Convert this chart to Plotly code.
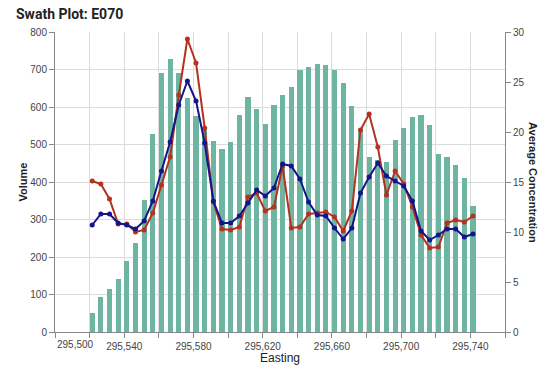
import plotly.graph_objects as go

eastings = [295520 + 5 * i for i in range(45)]
volume = [51, 94, 114, 141, 190, 238, 352, 528, 692, 728,
          692, 623, 576, 540, 510, 487, 507, 579, 628, 596,
          555, 605, 632, 654, 699, 708, 716, 712, 699, 663,
          604, 535, 468, 460, 454, 512, 545, 574, 580, 551,
          476, 466, 445, 412, 337]
conc_red = [15.1, 14.8, 13.3, 10.8, 10.8, 10.0, 10.2, 11.9, 14.7, 17.5,
            23.7, 29.3, 26.9, 20.4, 13.0, 10.3, 10.2, 10.5, 13.5, 13.9,
            12.1, 12.5, 16.6, 10.4, 10.5, 11.8, 11.9, 12.0, 11.5, 10.1,
            12.1, 20.2, 21.8, 18.5, 13.7, 16.1, 14.8, 12.5, 9.7, 8.4,
            8.5, 10.9, 11.2, 11.0, 11.6]
conc_blue = [10.7, 11.8, 11.8, 10.9, 10.7, 10.3, 11.1, 13.1, 16.1, 19.0,
             22.7, 25.1, 23.1, 18.9, 13.1, 10.9, 10.9, 11.6, 12.9, 14.2,
             13.6, 14.4, 16.8, 16.6, 15.3, 13.0, 11.7, 11.6, 10.4, 9.3,
             10.4, 13.9, 15.5, 16.9, 15.6, 15.1, 14.6, 13.1, 10.1, 9.2,
             9.7, 10.3, 10.3, 9.5, 9.8]
x_tick_vals = list(range(295500, 295761, 20))
x_tick_text = ["" if (v - 295500) % 40 or v == 295500 else f"{v:,}" for v in x_tick_vals]

W, H = 548, 371
L, R, T, B = 55, 43, 32, 39
PW, PH = W - L - R, H - T - B

BAR_W = 3
line_x = [e + BAR_W / 2 for e in eastings]

FONT = "Liberation Sans, Arial, sans-serif"

fig = go.Figure()
fig.add_trace(go.Bar(x=eastings, y=volume, width=BAR_W, offset=0,
                     marker=dict(color="#6db5a1", line=dict(width=0)),
                     showlegend=False))
fig.add_trace(go.Scatter(x=line_x, y=conc_red, yaxis="y2", mode="lines+markers",
                         line=dict(color="#b4321f", width=2),
                         marker=dict(color="#b4321f", size=5), showlegend=False))
fig.add_trace(go.Scatter(x=line_x, y=conc_blue, yaxis="y2", mode="lines+markers",
                         line=dict(color="#14148c", width=2),
                         marker=dict(color="#14148c", size=5), showlegend=False))

axis_common = dict(showline=True, linecolor="#888", linewidth=1, ticks="outside",
                   ticklen=5, tickcolor="#888", automargin=False,
                   tickfont=dict(family=FONT, size=10, color="#444"))

fig.update_layout(
    width=W, height=H,
    margin=dict(l=L, r=R, t=T, b=B, autoexpand=False),
    paper_bgcolor="white", plot_bgcolor="white",
    bargap=0,
    title=dict(text="Swath Plot: E070", x=16 / W, xanchor="left", y=1 - 14 / H,
               yanchor="middle",
               font=dict(family="Liberation Sans Narrow, Roboto, Arial", size=14,
                         color="#222", weight="bold")),
    xaxis=dict(range=[295500, 295760], tickvals=x_tick_vals, ticktext=x_tick_text,
               showgrid=True, gridcolor="#dcdcdc", zeroline=False, **axis_common),
    yaxis=dict(range=[0, 800], dtick=100, showgrid=True, gridcolor="#dcdcdc",
               zeroline=False, **axis_common),
    yaxis2=dict(range=[0, 30], dtick=5, overlaying="y", side="right", showgrid=False,
                zeroline=False, **axis_common),
    annotations=[
        dict(x=295500, y=0, xref="x", yref="paper", text="295,500",
             showarrow=False, xanchor="left", yanchor="top", yshift=-5,
             font=dict(family=FONT, size=10, color="#444")),
        dict(x=(22.5 - L) / PW, y=0.5, xref="paper", yref="paper", text="<b>Volume</b>",
             showarrow=False, textangle=-90, xanchor="center", yanchor="middle",
             font=dict(family=FONT, size=11, color="#222")),
        dict(x=(533 - L) / PW, y=0.5, xref="paper", yref="paper",
             text="<b>Average Concentration</b>",
             showarrow=False, textangle=90, xanchor="center", yanchor="middle",
             font=dict(family=FONT, size=11, color="#222")),
        dict(x=0.5, y=-(357.5 - (H - B)) / PH, xref="paper", yref="paper", text="Easting",
             showarrow=False, xanchor="center", yanchor="middle",
             font=dict(family=FONT, size=12, color="#222")),
    ],
)

fig.write_html("out.html", config={"displayModeBar": False},
               post_script="document.body.style.margin='0';document.body.style.padding='0';")
